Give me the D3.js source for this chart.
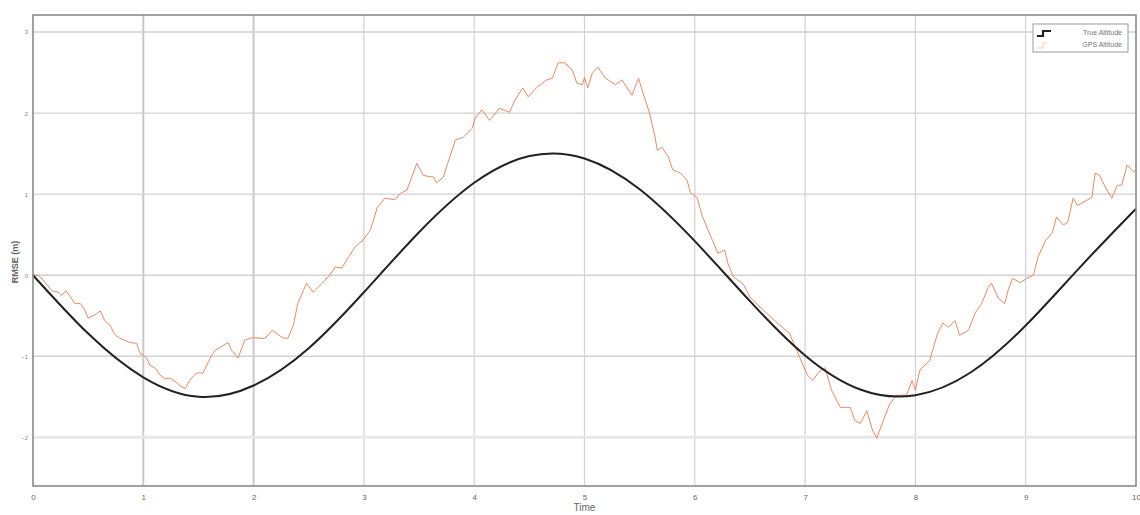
<!DOCTYPE html>
<html>
<head>
<meta charset="utf-8">
<script src="https://cdn.jsdelivr.net/npm/d3@7"></script>
<style>
  body { margin: 0; background: #fff; }
  svg { display: block; }
  text { font-family: "Liberation Sans", Arial, sans-serif; }
</style>
</head>
<body>
<svg id="chart" width="1140" height="515"></svg>
<script>
// data
var xTicks = [0, 1, 2, 3, 4, 5, 6, 7, 8, 9, 10]
var yTicks = [-2, -1, 0, 1, 2, 3]

var trueTime = [0, 0.5, 1, 1.5, 2, 2.5, 3, 3.5, 4, 4.5, 5, 5.5, 6, 6.5, 7, 7.5, 8, 8.5, 9, 9.5, 10]
var trueAlt = [0, -0.72, -1.26, -1.50, -1.36, -0.90, -0.21, 0.53, 1.14, 1.47, 1.44, 1.06, 0.42, -0.32, -0.99, -1.41, -1.48, -1.20, -0.62, 0.11, 0.82]

var gpsTime = [0.00, 0.05, 0.11, 0.17, 0.23, 0.26, 0.30, 0.33, 0.38, 0.43, 0.47, 0.50, 0.56, 0.61, 0.65, 0.70, 0.74, 0.79, 0.83, 0.88,
  0.94, 0.97, 1.03, 1.06, 1.11, 1.15, 1.20, 1.24, 1.31, 1.33, 1.38, 1.42, 1.47, 1.51, 1.54, 1.59, 1.62, 1.65, 1.77, 1.80,
  1.86, 1.92, 1.99, 2.10, 2.17, 2.26, 2.31, 2.36, 2.40, 2.48, 2.54, 2.62, 2.69, 2.74, 2.80, 2.86, 2.92, 2.99, 3.06, 3.12,
  3.19, 3.28, 3.33, 3.39, 3.48, 3.54, 3.63, 3.66, 3.72, 3.76, 3.83, 3.90, 3.98, 4.01, 4.07, 4.14, 4.23, 4.32, 4.37, 4.44,
  4.49, 4.57, 4.66, 4.71, 4.76, 4.82, 4.89, 4.93, 4.98, 5.00, 5.03, 5.07, 5.12, 5.19, 5.28, 5.34, 5.43, 5.49, 5.53, 5.59,
  5.64, 5.66, 5.70, 5.76, 5.80, 5.87, 5.93, 5.96, 6.02, 6.07, 6.16, 6.21, 6.27, 6.30, 6.35, 6.44, 6.50, 6.62, 6.75, 6.86,
  6.95, 7.02, 7.07, 7.12, 7.18, 7.24, 7.32, 7.41, 7.45, 7.50, 7.56, 7.61, 7.65, 7.71, 7.77, 7.83, 7.92, 7.97, 8.00, 8.04,
  8.13, 8.20, 8.25, 8.30, 8.36, 8.40, 8.48, 8.54, 8.60, 8.66, 8.69, 8.75, 8.81, 8.84, 8.88, 8.95, 9.01, 9.07, 9.11, 9.18,
  9.24, 9.28, 9.34, 9.38, 9.43, 9.47, 9.56, 9.60, 9.63, 9.67, 9.72, 9.78, 9.83, 9.87, 9.92, 9.98, 10.00]
var gpsAlt = [0.00, 0.00, -0.09, -0.19, -0.21, -0.25, -0.19, -0.25, -0.35, -0.35, -0.43, -0.53, -0.49, -0.44, -0.56, -0.62, -0.73, -0.78, -0.80, -0.83,
  -0.84, -0.96, -1.02, -1.11, -1.15, -1.23, -1.28, -1.27, -1.33, -1.36, -1.40, -1.30, -1.22, -1.20, -1.21, -1.07, -0.99, -0.93, -0.83, -0.93,
  -1.02, -0.80, -0.77, -0.78, -0.68, -0.77, -0.78, -0.62, -0.35, -0.10, -0.21, -0.10, 0.00, 0.10, 0.09, 0.22, 0.35, 0.43, 0.56, 0.83,
  0.95, 0.93, 1.01, 1.05, 1.38, 1.23, 1.21, 1.14, 1.21, 1.38, 1.67, 1.70, 1.81, 1.94, 2.04, 1.91, 2.06, 2.01, 2.16, 2.31,
  2.20, 2.32, 2.41, 2.43, 2.62, 2.62, 2.53, 2.37, 2.35, 2.44, 2.31, 2.49, 2.57, 2.43, 2.35, 2.41, 2.22, 2.43, 2.25, 2.00,
  1.70, 1.54, 1.58, 1.46, 1.30, 1.26, 1.17, 1.02, 0.96, 0.72, 0.43, 0.27, 0.31, 0.15, -0.02, -0.11, -0.27, -0.43, -0.59, -0.72,
  -1.01, -1.23, -1.30, -1.20, -1.14, -1.42, -1.63, -1.63, -1.79, -1.83, -1.67, -1.91, -2.01, -1.79, -1.58, -1.48, -1.48, -1.30, -1.42, -1.17,
  -1.05, -0.72, -0.59, -0.64, -0.56, -0.74, -0.68, -0.47, -0.35, -0.15, -0.10, -0.28, -0.35, -0.19, -0.04, -0.09, -0.04, 0.00, 0.22, 0.43,
  0.52, 0.72, 0.62, 0.65, 0.95, 0.86, 0.93, 0.96, 1.26, 1.23, 1.09, 0.95, 1.11, 1.11, 1.36, 1.27, 1.30]

var seriesNames = ['True Altitude', 'GPS Altitude']

//
// Layout
//

var margin = { left: 33, right: 4, top: 15, bottom: 29 }
var width = 1140, height = 515
var colorTrue = '#222'
var colorGps = '#e98a63'
var colorGrid = '#d2d2d2'
var colorAxis = '#8a8a8a'

var svg = d3.select('#chart')

var x = d3.scaleLinear().domain([0, 10]).range([margin.left, width - margin.right])
var y = d3.scaleLinear().domain([-2.6, 3.21]).range([height - margin.bottom, margin.top])

// grid
var grid = svg.append('g')
grid.selectAll('line.v')
  .data(xTicks.slice(1, -1))
  .enter().append('line')
  .attr('x1', d => x(d)).attr('x2', d => x(d))
  .attr('y1', y.range()[1]).attr('y2', y.range()[0])
  .attr('stroke', d => d <= 2 ? '#c8c8c8' : colorGrid)
  .attr('stroke-width', d => d <= 2 ? 2 : 1.2)

grid.selectAll('line.h')
  .data(yTicks)
  .enter().append('line')
  .attr('x1', x.range()[0]).attr('x2', x.range()[1])
  .attr('y1', d => y(d)).attr('y2', d => y(d))
  .attr('stroke', d => d === -2 ? '#e8e8e8' : colorGrid)
  .attr('stroke-width', d => d === -2 ? 3 : 1.4)

// lines
var lineTrue = d3.line()
  .x((d, i) => x(trueTime[i]))
  .y(d => y(d))
  .curve(d3.curveNatural)

var lineGps = d3.line()
  .x((d, i) => x(gpsTime[i]))
  .y(d => y(d))

svg.append('path')
  .attr('d', lineGps(gpsAlt))
  .attr('fill', 'none')
  .attr('stroke', colorGps)
  .attr('stroke-width', 1)
  .attr('stroke-linejoin', 'round')

svg.append('path')
  .attr('d', lineTrue(trueAlt))
  .attr('fill', 'none')
  .attr('stroke', colorTrue)
  .attr('stroke-width', 2)

// axes box
svg.append('rect')
  .attr('x', x.range()[0]).attr('y', y.range()[1])
  .attr('width', x.range()[1] - x.range()[0])
  .attr('height', y.range()[0] - y.range()[1])
  .attr('fill', 'none')
  .attr('stroke', colorAxis)
  .attr('stroke-width', 1.6)

var xAxis = svg.append('g')
  .attr('transform', 'translate(0,' + y.range()[0] + ')')
  .call(d3.axisBottom(x).tickValues(xTicks).tickSize(0).tickPadding(8))
xAxis.select('.domain').remove()
xAxis.selectAll('text').attr('fill', '#666').attr('font-size', 8)

var yAxis = svg.append('g')
  .attr('transform', 'translate(' + x.range()[0] + ',0)')
  .call(d3.axisLeft(y).tickValues(yTicks).tickFormat(d3.format('d')).tickSize(0).tickPadding(5))
yAxis.select('.domain').remove()
yAxis.selectAll('text').attr('fill', '#888').attr('font-size', 6)

svg.append('text')
  .attr('x', x(5)).attr('y', 511)
  .attr('text-anchor', 'middle')
  .attr('fill', '#666').attr('font-size', 10)
  .text('Time')

svg.append('text')
  .attr('transform', 'translate(18,262) rotate(-90)')
  .attr('text-anchor', 'middle')
  .attr('fill', '#666').attr('font-size', 9)
  .attr('font-weight', 'bold')
  .text('RMSE (m)')

// legend
var legend = svg.append('g').attr('transform', 'translate(1033,24)')
legend.append('rect')
  .attr('width', 95).attr('height', 28)
  .attr('fill', '#fff')
  .attr('stroke', '#999').attr('stroke-width', 1)

var legendColors = [colorTrue, '#f3c9b6']
seriesNames.forEach(function (name, i) {
  var g = legend.append('g').attr('transform', 'translate(0,' + (8 + i * 12) + ')')
  g.append('path')
    .attr('d', i === 0 ? 'M4,4 L10,4 L10,-1 L18,-1' : 'M4,4 L10,4 L10,-1 L14,-1')
    .attr('fill', 'none')
    .attr('stroke', legendColors[i])
    .attr('stroke-width', i === 0 ? 2.2 : 1)
  g.append('text')
    .attr('x', 89).attr('y', 3)
    .attr('text-anchor', 'end')
    .attr('fill', '#777').attr('font-size', 7)
    .text(name)
})
</script>
</body>
</html>
